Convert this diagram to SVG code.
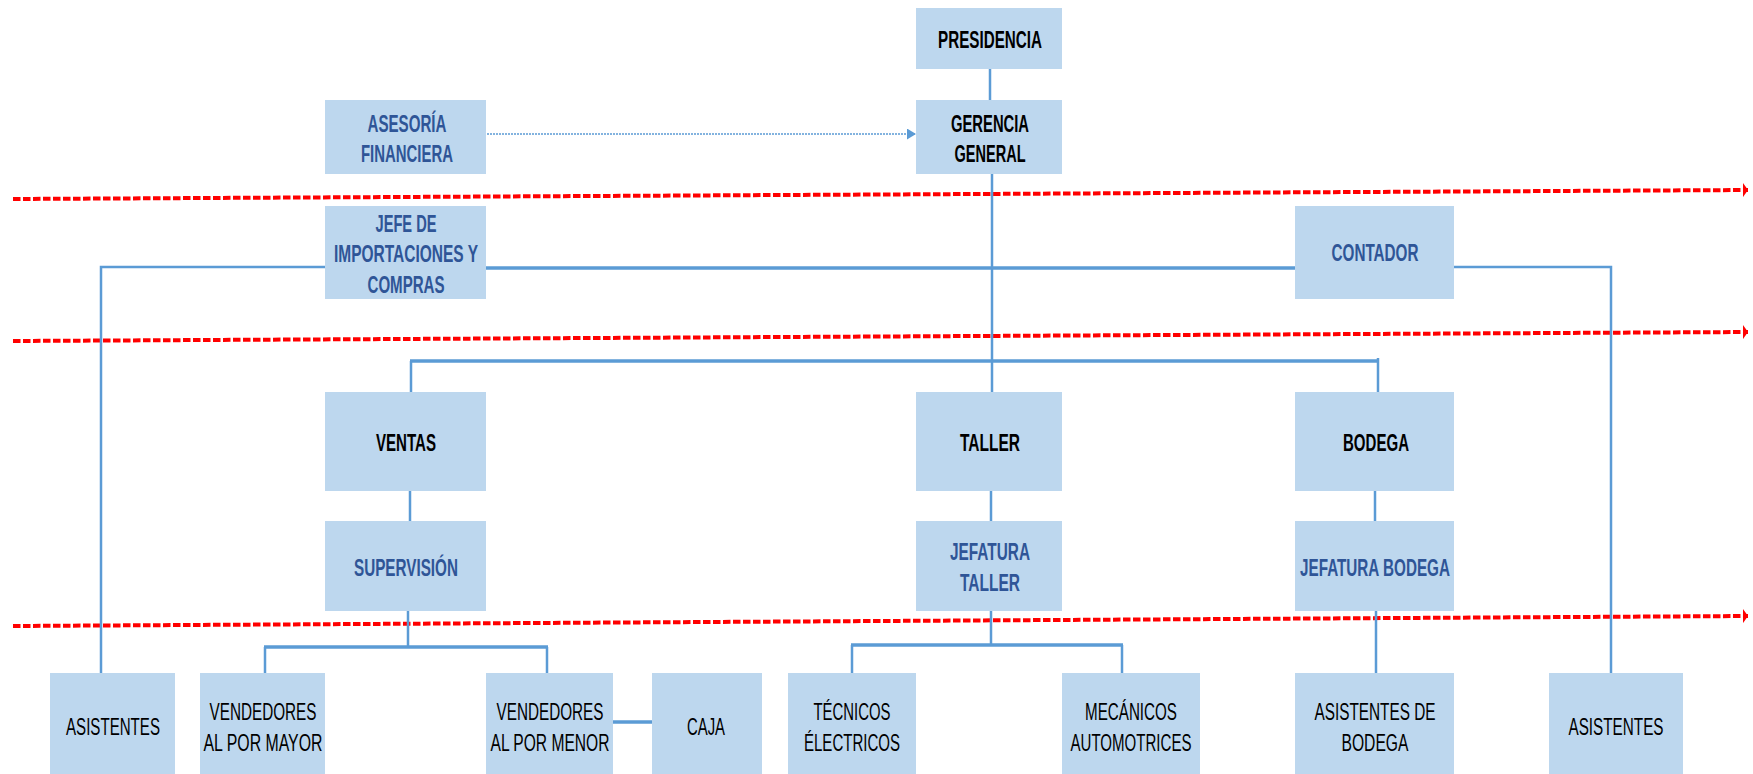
<svg xmlns="http://www.w3.org/2000/svg" width="1753" height="774" viewBox="0 0 1753 774">
<defs>
<style>
.box{fill:#BDD7EE}
.t{font-family:"Liberation Sans",Arial,sans-serif;font-size:23px;text-anchor:middle}
.bk{fill:#000;font-weight:bold}
.bl{fill:#2F5597;font-weight:bold}
.nm{fill:#000}
.c{stroke:#5B9BD5;stroke-width:2.5;fill:none}
.cw{stroke:#5B9BD5;stroke-width:3.5;fill:none}
.red{stroke:#FF0000;stroke-width:4;stroke-dasharray:7.5 2.5;fill:none}
</style>
<marker id="ra" markerWidth="5" markerHeight="14" refX="5" refY="7" orient="auto" markerUnits="userSpaceOnUse"><path d="M0,0 L5,7 L0,14 Z" fill="#FF0000"/></marker>
<marker id="ba" markerWidth="9" markerHeight="11" refX="9" refY="5.5" orient="auto" markerUnits="userSpaceOnUse"><path d="M0,0 L9,5.5 L0,11 Z" fill="#5B9BD5"/></marker>
</defs>

<g id="guides">
<line class="red" x1="13" y1="199" x2="1748" y2="190" marker-end="url(#ra)"/>
<line class="red" x1="13" y1="341" x2="1748" y2="332" marker-end="url(#ra)"/>
<line class="red" x1="13" y1="626" x2="1748" y2="616" marker-end="url(#ra)"/>
</g>

<g id="connectors">
<line class="c" x1="990" y1="69" x2="990" y2="100"/>
<line x1="487" y1="134" x2="916" y2="134" stroke="#5B9BD5" stroke-width="1.5" stroke-dasharray="2 1" marker-end="url(#ba)"/>
<line class="c" x1="992" y1="174" x2="992" y2="392"/>
<line class="cw" x1="486" y1="268" x2="1299" y2="268"/>
<polyline class="c" points="325,267 101,267 101,673"/>
<polyline class="c" points="1454,267 1611,267 1611,673"/>
<line class="cw" x1="410" y1="361" x2="1379" y2="361"/>
<line class="c" x1="411" y1="361" x2="411" y2="392"/>
<line class="c" x1="1378" y1="358" x2="1378" y2="392"/>
<line class="c" x1="410" y1="491" x2="410" y2="521"/>
<line class="c" x1="408" y1="611" x2="408" y2="647"/>
<line class="cw" x1="264" y1="647" x2="548" y2="647"/>
<line class="c" x1="265" y1="647" x2="265" y2="673"/>
<line class="c" x1="547" y1="647" x2="547" y2="673"/>
<line class="cw" x1="613" y1="722" x2="652" y2="722"/>
<line class="c" x1="991" y1="491" x2="991" y2="521"/>
<line class="c" x1="991" y1="611" x2="991" y2="645"/>
<line class="cw" x1="851" y1="645" x2="1123" y2="645"/>
<line class="c" x1="852" y1="645" x2="852" y2="673"/>
<line class="c" x1="1122" y1="645" x2="1122" y2="673"/>
<line class="c" x1="1375" y1="491" x2="1375" y2="521"/>
<line class="c" x1="1376" y1="608" x2="1376" y2="673"/>
</g>

<g id="presidencia"><rect class="box" x="916" y="8" width="146" height="61"/><text class="t bk" x="990" y="48" textLength="104" lengthAdjust="spacingAndGlyphs">PRESIDENCIA</text></g>
<g id="gerencia"><rect class="box" x="916" y="100" width="146" height="74"/><text class="t bk" x="990" y="132" textLength="78" lengthAdjust="spacingAndGlyphs">GERENCIA</text><text class="t bk" x="990" y="162" textLength="71" lengthAdjust="spacingAndGlyphs">GENERAL</text></g>
<g id="asesoria"><rect class="box" x="325" y="100" width="161" height="74"/><text class="t bl" x="407" y="132" textLength="79" lengthAdjust="spacingAndGlyphs">ASESORÍA</text><text class="t bl" x="407" y="162" textLength="92" lengthAdjust="spacingAndGlyphs">FINANCIERA</text></g>
<g id="jefe"><rect class="box" x="325" y="206" width="161" height="93"/><text class="t bl" x="406" y="232" textLength="61" lengthAdjust="spacingAndGlyphs">JEFE DE</text><text class="t bl" x="406" y="262" textLength="144" lengthAdjust="spacingAndGlyphs">IMPORTACIONES Y</text><text class="t bl" x="406" y="293" textLength="77" lengthAdjust="spacingAndGlyphs">COMPRAS</text></g>
<g id="contador"><rect class="box" x="1295" y="206" width="159" height="93"/><text class="t bl" x="1375" y="261" textLength="87" lengthAdjust="spacingAndGlyphs">CONTADOR</text></g>
<g id="ventas"><rect class="box" x="325" y="392" width="161" height="99"/><text class="t bk" x="406" y="451" textLength="60" lengthAdjust="spacingAndGlyphs">VENTAS</text></g>
<g id="taller"><rect class="box" x="916" y="392" width="146" height="99"/><text class="t bk" x="990" y="451" textLength="60" lengthAdjust="spacingAndGlyphs">TALLER</text></g>
<g id="bodega"><rect class="box" x="1295" y="392" width="159" height="99"/><text class="t bk" x="1376" y="451" textLength="66" lengthAdjust="spacingAndGlyphs">BODEGA</text></g>
<g id="supervision"><rect class="box" x="325" y="521" width="161" height="90"/><text class="t bl" x="406" y="576" textLength="104" lengthAdjust="spacingAndGlyphs">SUPERVISIÓN</text></g>
<g id="jefatura-taller"><rect class="box" x="916" y="521" width="146" height="90"/><text class="t bl" x="990" y="560" textLength="80" lengthAdjust="spacingAndGlyphs">JEFATURA</text><text class="t bl" x="990" y="591" textLength="60" lengthAdjust="spacingAndGlyphs">TALLER</text></g>
<g id="jefatura-bodega"><rect class="box" x="1295" y="521" width="159" height="90"/><text class="t bl" x="1375" y="576" textLength="150" lengthAdjust="spacingAndGlyphs">JEFATURA BODEGA</text></g>
<g id="asistentes-1"><rect class="box" x="50" y="673" width="125" height="101"/><text class="t nm" x="113" y="735" textLength="94" lengthAdjust="spacingAndGlyphs">ASISTENTES</text></g>
<g id="vend-mayor"><rect class="box" x="200" y="673" width="125" height="101"/><text class="t nm" x="263" y="720" textLength="107" lengthAdjust="spacingAndGlyphs">VENDEDORES</text><text class="t nm" x="263" y="751" textLength="119" lengthAdjust="spacingAndGlyphs">AL POR MAYOR</text></g>
<g id="vend-menor"><rect class="box" x="486" y="673" width="127" height="101"/><text class="t nm" x="550" y="720" textLength="107" lengthAdjust="spacingAndGlyphs">VENDEDORES</text><text class="t nm" x="550" y="751" textLength="119" lengthAdjust="spacingAndGlyphs">AL POR MENOR</text></g>
<g id="caja"><rect class="box" x="652" y="673" width="110" height="101"/><text class="t nm" x="706" y="735" textLength="38" lengthAdjust="spacingAndGlyphs">CAJA</text></g>
<g id="tecnicos"><rect class="box" x="788" y="673" width="128" height="101"/><text class="t nm" x="852" y="720" textLength="77" lengthAdjust="spacingAndGlyphs">TÉCNICOS</text><text class="t nm" x="852" y="751" textLength="96" lengthAdjust="spacingAndGlyphs">ÉLECTRICOS</text></g>
<g id="mecanicos"><rect class="box" x="1062" y="673" width="138" height="101"/><text class="t nm" x="1131" y="720" textLength="92" lengthAdjust="spacingAndGlyphs">MECÁNICOS</text><text class="t nm" x="1131" y="751" textLength="121" lengthAdjust="spacingAndGlyphs">AUTOMOTRICES</text></g>
<g id="asist-bodega"><rect class="box" x="1295" y="673" width="159" height="101"/><text class="t nm" x="1375" y="720" textLength="121" lengthAdjust="spacingAndGlyphs">ASISTENTES DE</text><text class="t nm" x="1375" y="751" textLength="67" lengthAdjust="spacingAndGlyphs">BODEGA</text></g>
<g id="asistentes-2"><rect class="box" x="1549" y="673" width="134" height="101"/><text class="t nm" x="1616" y="735" textLength="95" lengthAdjust="spacingAndGlyphs">ASISTENTES</text></g>
</svg>
